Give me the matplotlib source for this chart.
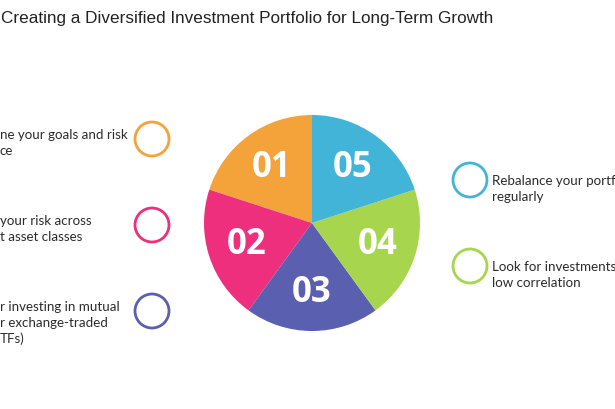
import matplotlib
matplotlib.use('Agg')
import matplotlib.pyplot as plt
from matplotlib.patches import Circle

# data
title = 'Creating a Diversified Investment Portfolio for Long-Term Growth'
steps = ['01', '02', '03', '04', '05']
shares = [1, 1, 1, 1, 1]
colors = ['#F4A23A', '#EE2F7E', '#5A5FB0', '#A7D64E', '#42B4D8']
left_notes = [['ne your goals and risk', 'ce'],
              ['your risk across', 't asset classes'],
              ['r investing in mutual', 'r exchange-traded', 'TFs)']]
right_notes = [['Rebalance your portf', 'regularly'],
               ['Look for investments', 'low correlation']]

W, H = 615, 410
fig = plt.figure(figsize=(W / 100, H / 100), dpi=100)
ax = fig.add_axes([0, 0, 1, 1])

body = dict(family='Lato', fontsize=9.6, color='#2b2b2b')

ax.pie(shares, colors=colors, labels=steps, startangle=90, counterclock=True,
       center=(312, 186), radius=108, labeldistance=0.64, frame=True,
       wedgeprops=dict(linewidth=0),
       textprops=dict(color='white', fontsize=25, fontweight='bold',
                      family='Open Sans', ha='center', va='center'))
ax.set_xlim(0, W)
ax.set_ylim(0, H)
ax.set_aspect('equal')
ax.axis('off')

ax.text(1, H - 18, title, fontsize=12.3, family='Liberation Sans',
        color='#222222', va='center', ha='left')

# left side circles + text
left_y = [270, 184, 98]
left_cols = [colors[0], colors[1], colors[2]]
for y, c, lines in zip(left_y, left_cols, left_notes):
    ax.add_patch(Circle((152, y), 17, facecolor='white', edgecolor=c, lw=2))
    for i, ln in enumerate(lines):
        ax.text(0, y + 5 - i * 16, ln, va='center', ha='left', **body)

# right side circles + text
right_y = [229, 143]
right_cols = [colors[4], colors[3]]
for y, c, lines in zip(right_y, right_cols, right_notes):
    ax.add_patch(Circle((470, y), 17, facecolor='white', edgecolor=c, lw=2))
    for i, ln in enumerate(lines):
        ax.text(492, y - i * 16, ln, va='center', ha='left', **body)

fig.savefig('out.png', dpi=100)
